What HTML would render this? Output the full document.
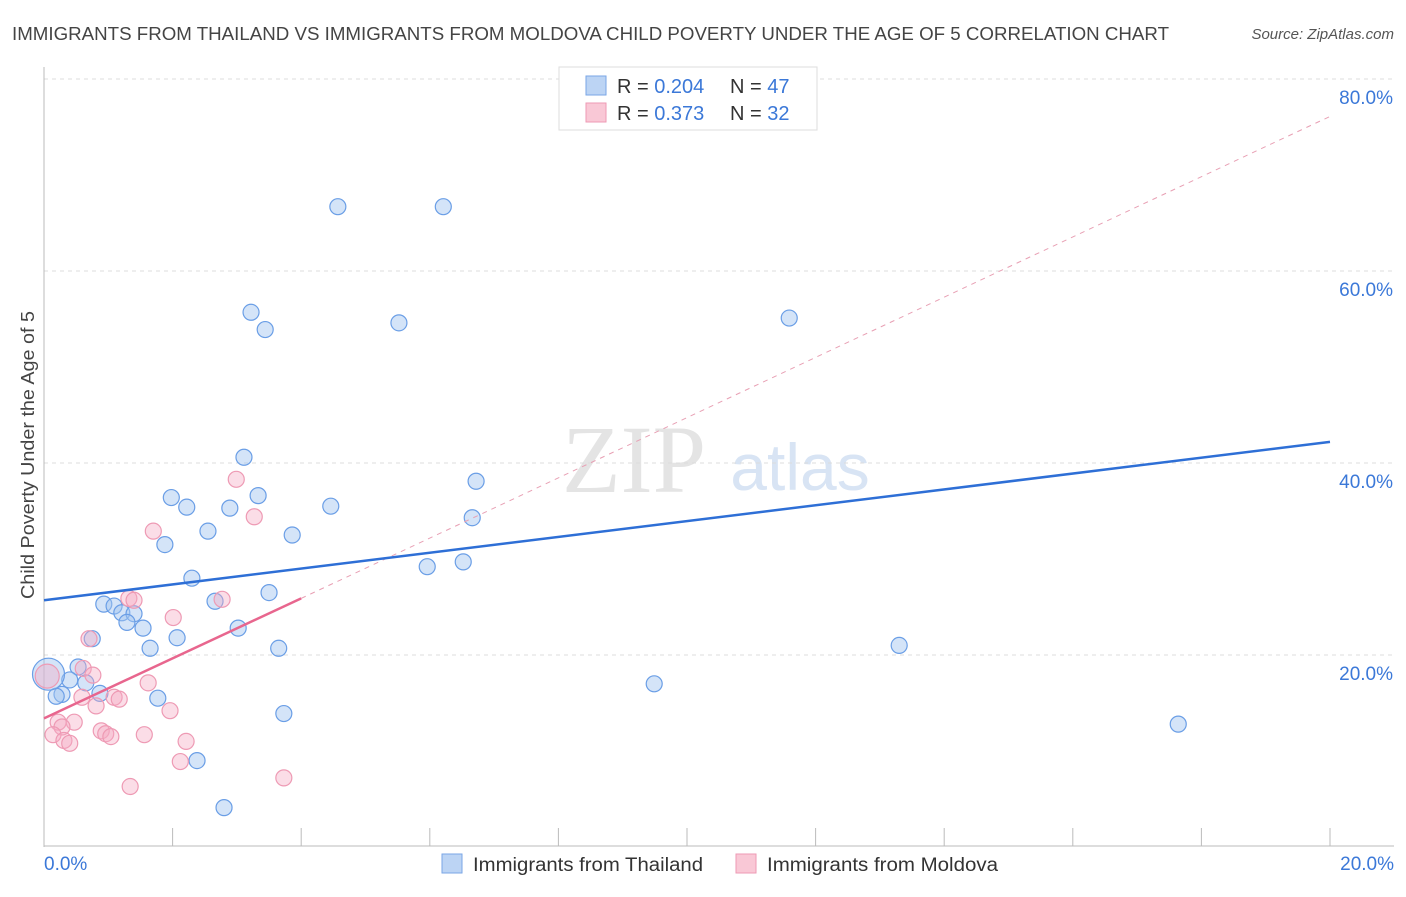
<!DOCTYPE html>
<html><head><meta charset="utf-8"><style>
body{margin:0;background:#fff;font-family:"Liberation Sans",sans-serif;}
svg text{font-family:"Liberation Sans",sans-serif;}
</style></head><body>
<svg width="1406" height="892" id="chart">
<text x="12" y="40" font-size="18" fill="#444" textLength="1157" lengthAdjust="spacingAndGlyphs">IMMIGRANTS FROM THAILAND VS IMMIGRANTS FROM MOLDOVA CHILD POVERTY UNDER THE AGE OF 5 CORRELATION CHART</text>
<text x="1394" y="39" font-size="15" fill="#555" font-style="italic" text-anchor="end">Source: ZipAtlas.com</text>
<text x="634" y="492" font-size="96" fill="#e4e4e4" font-family="Liberation Serif" text-anchor="middle" style="font-family:'Liberation Serif',serif">ZIP</text>
<text x="800" y="490" font-size="66" fill="#d8e4f4" text-anchor="middle">atlas</text>
<text transform="translate(34,455) rotate(-90)" font-size="18" fill="#444" text-anchor="middle" textLength="288" lengthAdjust="spacingAndGlyphs">Child Poverty Under the Age of 5</text>
<g id="grid"></g><g id="marks"></g>
<g>
<rect x="559" y="67" width="258" height="63" fill="#fff" stroke="#ddd"/>
<rect x="586" y="76" width="20" height="19" fill="#bcd4f4" stroke="#7aa6e6"/>
<rect x="586" y="103" width="20" height="19" fill="#f9c8d6" stroke="#ee9ab4"/>
<text x="617" y="93" font-size="20" fill="#333">R = <tspan fill="#3b78d8">0.204</tspan></text>
<text x="730" y="93" font-size="20" fill="#333">N = <tspan fill="#3b78d8">47</tspan></text>
<text x="617" y="120" font-size="20" fill="#333">R =  <tspan fill="#3b78d8">0.373</tspan></text>
<text x="730" y="120" font-size="20" fill="#333">N = <tspan fill="#3b78d8">32</tspan></text>
</g>
<g>
<rect x="442" y="854" width="20" height="19" fill="#bcd4f4" stroke="#7aa6e6"/>
<text x="473" y="871" font-size="19" fill="#333" textLength="230" lengthAdjust="spacingAndGlyphs">Immigrants from Thailand</text>
<rect x="736" y="854" width="20" height="19" fill="#f9c8d6" stroke="#ee9ab4"/>
<text x="767" y="871" font-size="19" fill="#333" textLength="231" lengthAdjust="spacingAndGlyphs">Immigrants from Moldova</text>
</g>
</svg>
<script>
const yTicks=[20,40,60,80];
const xTickLabels=["0.0%","20.0%"];
const thaiX=[4.57,6.21,3.22,3.44,5.52,11.59,3.11,6.72,1.98,2.22,2.89,3.33,4.46,6.66,2.55,3.86,1.88,5.96,6.52,2.30,0.93,1.09,1.21,1.40,1.29,2.66,3.50,1.54,3.02,0.75,2.07,1.65,3.65,13.30,0.53,0.40,0.65,9.49,0.28,0.87,1.77,0.19,3.73,17.64,2.38,2.80,0.07];
const thaiY=[66.7,66.7,55.7,53.9,54.6,55.1,40.6,38.1,36.4,35.4,35.3,36.6,35.5,34.3,32.9,32.5,31.5,29.2,29.7,28.0,25.3,25.1,24.4,24.3,23.4,25.6,26.5,22.8,22.8,21.7,21.8,20.7,20.7,21.0,18.75,17.4,17.1,17.0,15.9,16.0,15.5,15.7,13.9,12.8,9.0,4.1,18.0];
const thaiBig=[46];
const molX=[2.99,3.27,1.70,1.32,1.40,2.77,2.01,0.70,0.61,0.76,1.62,0.59,0.81,1.09,1.17,1.96,0.22,0.47,0.28,0.14,0.89,0.96,1.04,1.56,2.21,0.31,0.40,2.12,1.34,3.73,0.05];
const molY=[38.3,34.4,32.9,25.9,25.7,25.8,23.9,21.7,18.6,17.9,17.1,15.6,14.7,15.6,15.4,14.2,13.0,13.0,12.5,11.7,12.1,11.8,11.5,11.7,11.0,11.1,10.8,8.9,6.3,7.2,17.8];
const thaiTrend=[25.7,42.2];
const molTrend=[13.4,25.9,76.1];
const NS="http://www.w3.org/2000/svg";
const X=v=>44+v*64.3, Y=v=>847-v*9.6;
function mk(t,a,p){const e=document.createElementNS(NS,t);for(const k in a)e.setAttribute(k,a[k]);p.appendChild(e);return e;}
const grid=document.getElementById('grid'), marks=document.getElementById('marks');
yTicks.forEach(t=>{
 const l=mk('line',{x1:44,x2:1394,y1:Y(t),y2:Y(t),stroke:'#ddd','stroke-dasharray':'4,4'},grid);
 
 
 const tx=mk('text',{x:1393,y:Y(t)+25,'font-size':19,fill:'#3b78d8','text-anchor':'end'},grid);tx.textContent=t.toFixed(1)+'%';
 
 
});
const ax=mk('line',{x1:44,x2:44,y1:67,y2:847,stroke:'#bbb'},grid);


const bx=mk('line',{x1:44,x2:1394,y1:846,y2:846,stroke:'#bbb'},grid);


for(let i=0;i<=10;i++){const t=mk('line',{x1:X(i*2),x2:X(i*2),y1:828,y2:846,stroke:'#bbb'},grid);
 
 }
xTickLabels.forEach((s,i)=>{const t=mk('text',{x:i?1394:44,y:870,'font-size':19,fill:'#3b78d8','text-anchor':i?'end':'start'},grid);t.textContent=s;
 
 });
thaiX.forEach((v,i)=>{const big=thaiBig.includes(i);const c=mk('circle',{cx:X(v),cy:Y(thaiY[i]),r:big?16:8,fill:'rgba(160,195,240,0.45)',stroke:'#6a9ee6','stroke-width':1.2},marks);
 
 });
molX.forEach((v,i)=>{const c=mk('circle',{cx:X(v),cy:Y(molY[i]),r:i==molX.length-1?12:8,fill:'rgba(245,170,195,0.4)',stroke:'#ee9ab4','stroke-width':1.2},marks);
 
 });
const d=mk('line',{x1:X(4),y1:Y(molTrend[1]),x2:X(20),y2:Y(molTrend[2]),stroke:'#e8a0b4','stroke-dasharray':'5,5','stroke-width':1},marks);


const p=mk('line',{x1:X(0),y1:Y(molTrend[0]),x2:X(4),y2:Y(molTrend[1]),stroke:'#e8668e','stroke-width':2.5},marks);


const b=mk('line',{x1:X(0),y1:Y(thaiTrend[0]),x2:X(20),y2:Y(thaiTrend[1]),stroke:'#2e6fd6','stroke-width':2.5},marks);


</script>
</body></html>
